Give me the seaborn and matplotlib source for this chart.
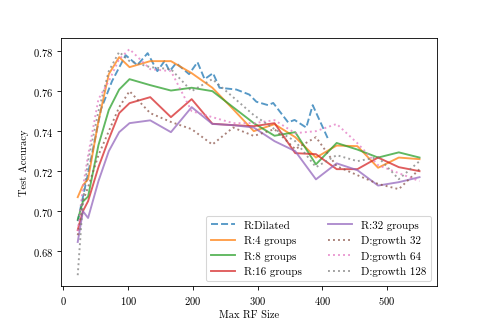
import matplotlib
matplotlib.use("Agg")
import matplotlib.pyplot as plt
import seaborn as sns
import pandas as pd

# ---------------- DATA ----------------
rf_grid = [22, 30, 38, 54, 70, 86, 102, 134, 166, 198, 230, 262, 294, 326,
           358, 390, 422, 454, 486, 518, 550]

rf_dilated = [22, 40, 58, 75, 96, 114, 130, 145, 156, 164, 174, 194, 207, 218,
              231, 241, 267, 287, 298, 316, 324, 347, 357, 375, 385, 409]
acc_dilated = [0.695, 0.722, 0.751, 0.765, 0.778, 0.773, 0.779, 0.770, 0.775,
               0.770, 0.774, 0.7685, 0.7745, 0.766, 0.769, 0.7617, 0.7608,
               0.7583, 0.7547, 0.753, 0.7541, 0.7444, 0.7456, 0.7418, 0.753,
               0.7359]

acc_g4 = [0.707, 0.713, 0.716, 0.745, 0.7685, 0.777, 0.772, 0.775, 0.775,
          0.769, 0.7617, 0.751, 0.740, 0.7435, 0.737, 0.7268, 0.7328, 0.7325,
          0.7217, 0.7268, 0.726]
acc_g8 = [0.6957, 0.7048, 0.7073, 0.733, 0.7506, 0.7608, 0.766, 0.763, 0.7603,
          0.7617, 0.760, 0.752, 0.744, 0.7377, 0.7395, 0.7234, 0.7341, 0.7308,
          0.7268, 0.7294, 0.7268]
acc_g16 = [0.6906, 0.700, 0.705, 0.722, 0.736, 0.749, 0.754, 0.757, 0.747,
           0.756, 0.7437, 0.743, 0.7425, 0.744, 0.729, 0.7285, 0.721, 0.721,
           0.7268, 0.722, 0.720]
acc_g32 = [0.6846, 0.700, 0.6966, 0.715, 0.730, 0.7395, 0.744, 0.7454, 0.7395,
           0.752, 0.7436, 0.743, 0.7418, 0.735, 0.730, 0.7159, 0.7239, 0.7205,
           0.7128, 0.7145, 0.717]

acc_d32 = [0.688, 0.705, 0.712, 0.728, 0.740, 0.752, 0.760, 0.749, 0.7446,
           0.741, 0.7333, 0.7418, 0.7376, 0.741, 0.731, 0.737, 0.7225, 0.718,
           0.7136, 0.711, 0.721]
acc_d64 = [0.690, 0.712, 0.728, 0.756, 0.765, 0.776, 0.781, 0.771, 0.770,
           0.750, 0.747, 0.744, 0.744, 0.7455, 0.739, 0.740, 0.7436, 0.734,
           0.723, 0.719, 0.715]
acc_d128 = [0.668, 0.705, 0.725, 0.750, 0.770, 0.7796, 0.775, 0.772, 0.771,
            0.760, 0.766, 0.757, 0.748, 0.741, 0.735, 0.722, 0.728, 0.725,
            0.727, 0.716, 0.725]

series = [
    ("R:Dilated", rf_dilated, acc_dilated, "C0", "--"),
    ("R:4 groups", rf_grid, acc_g4, "C1", "-"),
    ("R:8 groups", rf_grid, acc_g8, "C2", "-"),
    ("R:16 groups", rf_grid, acc_g16, "C3", "-"),
    ("R:32 groups", rf_grid, acc_g32, "C4", "-"),
    ("D:growth 32", rf_grid, acc_d32, "C5", ":"),
    ("D:growth 64", rf_grid, acc_d64, "C6", ":"),
    ("D:growth 128", rf_grid, acc_d128, "C7", ":"),
]

# ---------------- STYLE ----------------
plt.rcParams["font.family"] = "serif"
plt.rcParams["font.serif"] = ["cmr10"]
plt.rcParams["mathtext.fontset"] = "cm"
plt.rcParams["axes.formatter.use_mathtext"] = True

# ---------------- PLOT ----------------
fig, ax = plt.subplots(figsize=(6.4, 4.26))

for name, xs, ys, color, ls in series:
    df = pd.DataFrame({"rf": xs, "acc": ys})
    sns.lineplot(data=df, x="rf", y="acc", ax=ax, color=color, linestyle=ls,
                 linewidth=1.8, alpha=0.75, label=name)

ax.set_xlabel("Max RF Size")
ax.set_ylabel("Test Accuracy")
ax.set_xticks([0, 100, 200, 300, 400, 500])
ax.set_yticks([0.68, 0.70, 0.72, 0.74, 0.76, 0.78])
ax.legend(loc="lower right", ncol=2, fontsize=10.5, columnspacing=2.4,
          handlelength=2.2)

fig.savefig("out.png", dpi=75.8)
